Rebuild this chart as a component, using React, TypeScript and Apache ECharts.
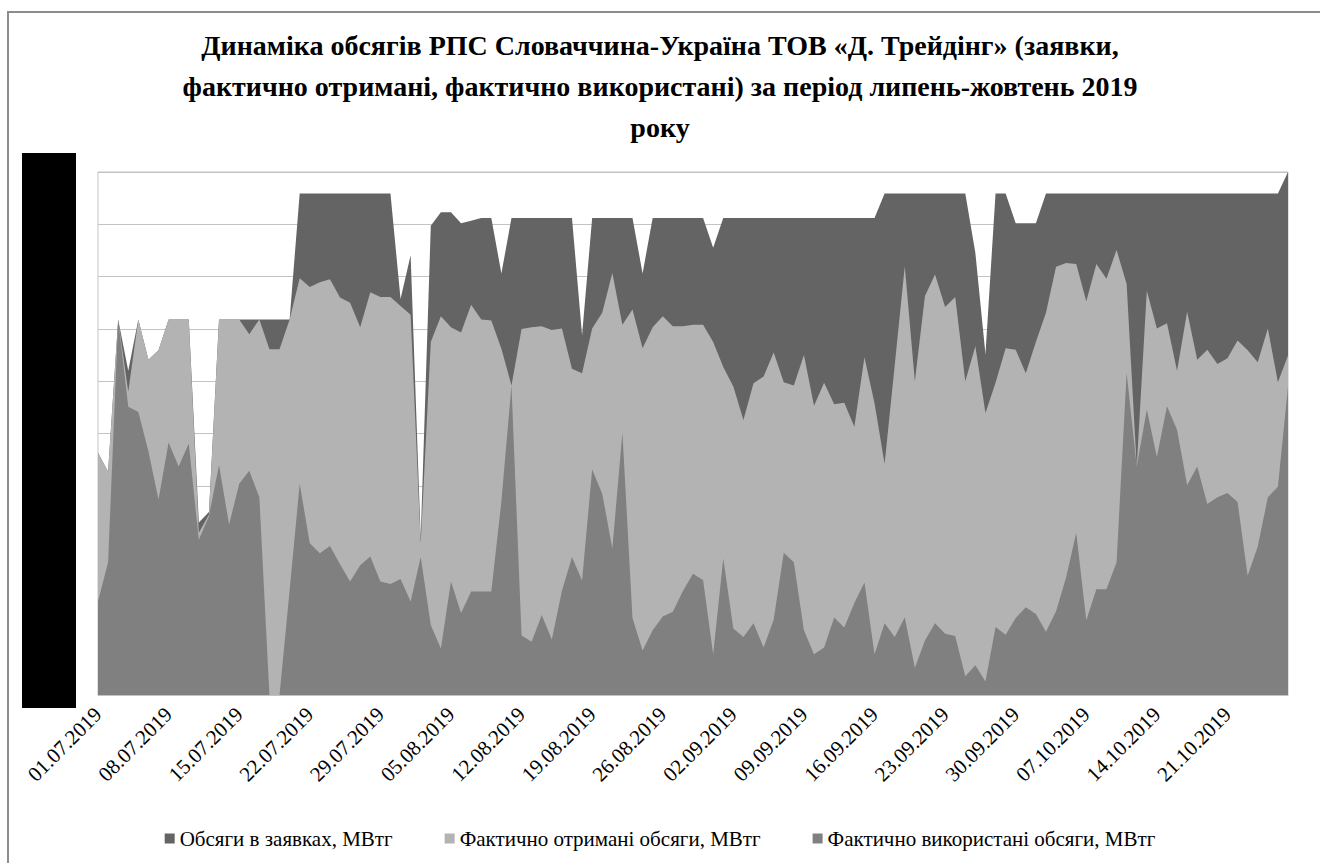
import React, { useEffect, useRef } from "react";
import * as echarts from "echarts";

const TITLE_LINES = [
  "Динаміка обсягів РПС Словаччина-Україна ТОВ «Д. Трейдінг» (заявки,",
  "фактично отримані, фактично використані) за період липень-жовтень 2019",
  "року",
];

const SERIES_NAMES = [
  "Обсяги в заявках, МВтг",
  "Фактично отримані обсяги, МВтг",
  "Фактично використані обсяги, МВтг",
];

// daily categories 01.07.2019 .. 27.10.2019
const FIRST_DAY_UTC = Date.UTC(2019, 6, 1);
const DAY_COUNT = 119;
const dates: string[] = Array.from({ length: DAY_COUNT }, (_, i) => {
  const d = new Date(FIRST_DAY_UTC + i * 86400000);
  const dd = String(d.getUTCDate()).padStart(2, "0");
  const mm = String(d.getUTCMonth() + 1).padStart(2, "0");
  return `${dd}.${mm}.${d.getUTCFullYear()}`;
});

// Обсяги в заявках (requested)
const requested = [
  4.63, 4.27, 7.18, 6.2, 7.18, 6.41, 6.59, 7.18, 7.18, 7.18,
  3.3, 3.5, 7.18, 7.18, 7.18, 7.18, 7.18, 7.18, 7.18, 7.18,
  9.59, 9.59, 9.59, 9.59, 9.59, 9.59, 9.59, 9.59, 9.59, 9.59,
  7.57, 8.41, 3.0, 8.97, 9.23, 9.23, 9.02, 9.07, 9.12, 9.12,
  8.06, 9.12, 9.12, 9.12, 9.12, 9.12, 9.12, 9.12, 6.88, 9.12,
  9.12, 9.12, 9.12, 9.12, 8.06, 9.12, 9.12, 9.12, 9.12, 9.12,
  9.12, 8.55, 9.12, 9.12, 9.12, 9.12, 9.12, 9.12, 9.12, 9.12,
  9.12, 9.12, 9.12, 9.12, 9.12, 9.12, 9.12, 9.12, 9.59, 9.59,
  9.59, 9.59, 9.59, 9.59, 9.59, 9.59, 9.59, 8.45, 6.52, 9.59,
  9.59, 9.02, 9.02, 9.02, 9.59, 9.59, 9.59, 9.59, 9.59, 9.59,
  9.59, 9.59, 9.59, 9.59, 9.59, 9.59, 9.59, 9.59, 9.59, 9.59,
  9.59, 9.59, 9.59, 9.59, 9.59, 9.59, 9.59, 9.59, 10.0,
];

// Фактично отримані обсяги (received)
const received = [
  4.63, 4.27, 7.18, 5.8, 7.18, 6.41, 6.59, 7.18, 7.18, 7.18,
  3.1, 3.45, 7.18, 7.18, 7.18, 6.9, 7.18, 6.61, 6.61, 7.18,
  7.97, 7.8, 7.89, 7.95, 7.6, 7.5, 7.03, 7.7, 7.61, 7.61,
  7.44, 7.27, 2.9, 6.75, 7.24, 7.03, 6.93, 7.46, 7.18, 7.16,
  6.62, 5.92, 7.0, 7.03, 7.05, 6.98, 7.01, 6.24, 6.15, 7.01,
  7.31, 8.07, 7.08, 7.37, 6.63, 7.03, 7.24, 7.05, 7.05, 7.08,
  7.08, 6.75, 6.27, 5.9, 5.26, 5.96, 6.09, 6.55, 5.98, 5.92,
  6.5, 5.53, 5.97, 5.56, 5.59, 5.13, 6.46, 5.58, 4.42, 6.3,
  8.2, 6.0, 7.63, 8.04, 7.42, 7.61, 6.0, 6.67, 5.39, 5.97,
  6.63, 6.6, 6.15, 6.75, 7.31, 8.19, 8.26, 8.24, 7.53, 8.24,
  7.96, 8.51, 7.86, 4.37, 7.73, 7.01, 7.11, 6.2, 7.33, 6.41,
  6.6, 6.33, 6.44, 6.78, 6.59, 6.36, 7.01, 5.98, 6.49,
];

// Фактично використані обсяги (used)
const used = [
  1.79, 2.54, 7.18, 5.51, 5.41, 4.66, 3.74, 4.83, 4.37, 4.81,
  2.97, 3.42, 4.4, 3.26, 4.04, 4.29, 3.78, 0, 0, 2.0,
  4.04, 2.9, 2.71, 2.85, 2.5, 2.17, 2.48, 2.65, 2.17, 2.12,
  2.22, 1.79, 2.64, 1.34, 0.89, 2.17, 1.57, 1.98, 1.98, 1.98,
  3.7, 5.92, 1.14, 1.02, 1.53, 1.06, 1.99, 2.64, 2.19, 4.31,
  3.85, 2.8, 5.02, 1.47, 0.85, 1.24, 1.5, 1.59, 1.99, 2.32,
  2.2, 0.78, 2.61, 1.27, 1.11, 1.37, 0.91, 1.44, 2.72, 2.54,
  1.24, 0.78, 0.91, 1.48, 1.29, 1.76, 2.15, 0.78, 1.37, 1.11,
  1.48, 0.52, 1.04, 1.37, 1.17, 1.13, 0.36, 0.57, 0.26, 1.3,
  1.15, 1.47, 1.68, 1.55, 1.21, 1.6, 2.25, 3.1, 1.43, 2.02,
  2.02, 2.54, 6.16, 4.37, 5.46, 4.55, 5.52, 5.07, 4.01, 4.37,
  3.65, 3.78, 3.86, 3.69, 2.28, 2.84, 3.78, 3.98, 5.9,
];

const SERIES_COLORS = ["#646464", "#b3b3b3", "#808080"];
const FONT = "serif";

export default function App() {
  const ref = useRef<HTMLDivElement>(null);

  useEffect(() => {
    if (!ref.current) return;
    const chart = echarts.init(ref.current, undefined, { renderer: "svg" });
    const values = [requested, received, used];
    chart.setOption({
      animation: false,
      backgroundColor: "#ffffff",
      textStyle: { fontFamily: FONT },
      title: {
        text: TITLE_LINES.join("\n"),
        left: "center",
        top: 20,
        textStyle: {
          fontFamily: FONT,
          fontWeight: "bold",
          fontSize: 28,
          lineHeight: 41,
          color: "#000",
        },
      },
      legend: {
        data: SERIES_NAMES,
        top: 823,
        left: "center",
        icon: "rect",
        itemWidth: 10,
        itemHeight: 10,
        itemGap: 52,
        textStyle: { fontFamily: FONT, fontSize: 21, color: "#000" },
      },
      grid: {
        left: 98,
        right: 32,
        top: 172,
        bottom: 168,
        show: true,
        borderColor: "#c3c3c3",
        borderWidth: 1,
        containLabel: false,
      },
      xAxis: {
        type: "category",
        data: dates,
        boundaryGap: false,
        axisLine: { show: true, lineStyle: { color: "#c3c3c3" } },
        axisTick: { show: false },
        splitLine: { show: false },
        axisLabel: {
          interval: 6,
          rotate: 45,
          margin: 16,
          fontFamily: FONT,
          fontSize: 21,
          color: "#000",
        },
      },
      yAxis: {
        type: "value",
        min: 0,
        max: 10,
        interval: 1,
        axisLabel: { show: false },
        axisLine: { show: false },
        axisTick: { show: false },
        splitLine: { lineStyle: { color: "#c3c3c3", width: 1 } },
      },
      series: SERIES_NAMES.map((name, k) => ({
        name,
        type: "line",
        data: values[k],
        symbol: "none",
        silent: true,
        color: SERIES_COLORS[k],
        itemStyle: { color: SERIES_COLORS[k] },
        lineStyle: { width: 0 },
        areaStyle: { color: SERIES_COLORS[k], opacity: 1 },
      })),
      graphic: [
        {
          type: "rect",
          silent: true,
          z: 100,
          shape: { x: 8, y: 12, width: 1330, height: 900 },
          style: { fill: "none", stroke: "#8c8c8c", lineWidth: 2 },
        },
        {
          type: "rect",
          silent: true,
          z: 100,
          shape: { x: 22, y: 153, width: 54, height: 555 },
          style: { fill: "#000" },
        },
      ],
    });
    return () => chart.dispose();
  }, []);

  return (
    <div
      ref={ref}
      style={{ position: "fixed", left: 0, top: 0, width: 1320, height: 863 }}
    />
  );
}
